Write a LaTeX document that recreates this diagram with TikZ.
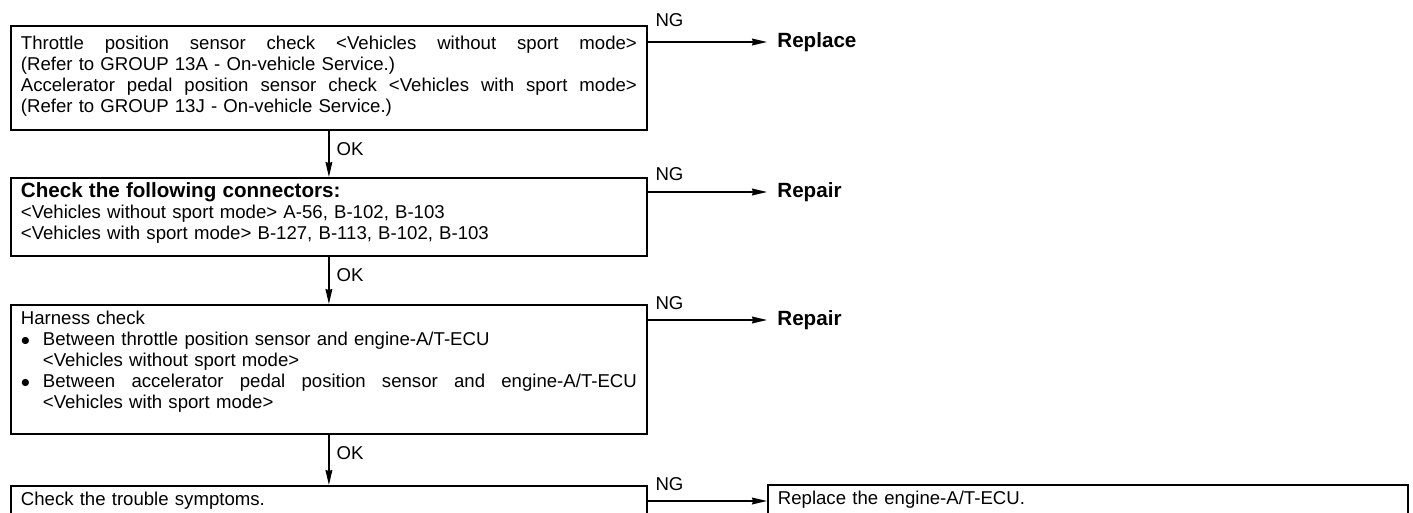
\documentclass[tikz,border=0pt]{standalone}
\usepackage{fontspec}
\setmainfont[WordSpace=1.4]{Liberation Sans}
\usetikzlibrary{arrows.meta, positioning, calc}

% stretch a line over the given width
\newcommand{\spreadline}[2][\linewidth]{\makebox[#1][s]{\spaceskip=1pt plus 40pt\relax #2}}
\newcommand{\bulletitem}{\makebox[11pt][l]{\raisebox{0.3pt}{$\bullet$}}}
\newcommand{\boldtext}[1]{{\bfseries\fontsize{10.3}{10.5}\selectfont #1}}

\tikzset{
  stepbox/.style={draw, line width=0.9pt, anchor=north west, text width=308pt, inner xsep=5pt, inner ysep=3pt, text height=7pt, align=left, font=\fontsize{9.3}{10.5}\selectfont},
  flow/.style={-{Stealth[length=7.5pt, width=3.4pt, inset=0.5pt]}, line width=0.7pt},
  ok/.style={pos=0, anchor=north west, xshift=2.5pt, yshift=-4.5pt, inner sep=1pt, font=\fontsize{9.3}{10.5}\selectfont},
  ng/.style={pos=0, anchor=base west, xshift=2.5pt, yshift=5.5pt, inner sep=1pt, font=\fontsize{9.3}{10.5}\selectfont},
  result/.style={anchor=west, inner xsep=5pt, inner ysep=3pt, font=\bfseries\fontsize{10.3}{10.5}\selectfont}
}

\begin{document}
\begin{tikzpicture}[x=0.5pt, y=-0.5pt]
\clip (0,0) rectangle (1413,513);

% check steps
\node[stepbox, text height=9pt, text depth=37pt] (tps) at (10,25) {\spreadline{Throttle position sensor check <Vehicles without sport mode>}\\
(Refer to GROUP 13A - On-vehicle Service.)\\
\spreadline{Accelerator pedal position sensor check <Vehicles with sport mode>}\\
(Refer to GROUP 13J - On-vehicle Service.)};
\node[stepbox, text depth=26pt] (conn) at (10,177) {\boldtext{Check the following connectors:}\\
<Vehicles without sport mode> A-56, B-102, B-103\\
<Vehicles with sport mode> B-127, B-113, B-102, B-103};
\node[stepbox, text depth=51.5pt] (harn) at (10,304) {Harness check\\
\bulletitem Between throttle position sensor and engine-A/T-ECU\\
\hspace*{11pt}<Vehicles without sport mode>\\
\bulletitem\spreadline[\dimexpr\linewidth-11pt\relax]{Between accelerator pedal position sensor and engine-A/T-ECU}\\
\hspace*{11pt}<Vehicles with sport mode>};
\node[stepbox, text depth=30pt] (sympt) at (10,485) {Check the trouble symptoms.};

% results
\node[result] (rep1) at (767,42) {Replace};
\node[result] (rep2) at (767,192) {Repair};
\node[result] (rep3) at (767,320) {Repair};
\node[stepbox, text width=310pt, text depth=30pt] (ecu) at (767,484) {Replace the engine-A/T-ECU.};
\coordinate (ecuin) at ($(ecu.north west)+(0,17)$);

% OK arrows
\draw[flow] (tps.south) -- node[ok] {OK} (conn.north);
\draw[flow] (conn.south) -- node[ok] {OK} (harn.north);
\draw[flow] (harn.south) -- node[ok] {OK} (sympt.north);

% NG arrows
\draw[flow] (tps.east |- rep1.west) -- node[ng, yshift=2pt] {NG} (rep1.west);
\draw[flow] (conn.east |- rep2.west) -- node[ng] {NG} (rep2.west);
\draw[flow] (harn.east |- rep3.west) -- node[ng] {NG} (rep3.west);
\draw[flow] (sympt.east |- ecuin) -- node[ng] {NG} (ecuin);
\end{tikzpicture}
\end{document}
